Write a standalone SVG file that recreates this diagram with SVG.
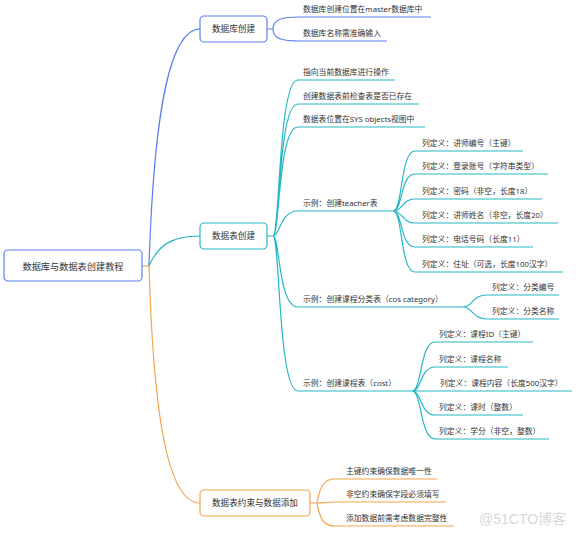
<svg xmlns="http://www.w3.org/2000/svg" width="576" height="538" viewBox="0 0 576 538">
<style>
text{font-family:"Noto Sans","Noto Sans CJK SC",sans-serif;fill:#333;dominant-baseline:central}
.leaf{font-size:7.8px}
.node{font-size:8.6px;text-anchor:middle}
.root{font-size:9.2px;text-anchor:middle}
.box{fill:#fff;stroke-width:1.2}
.c{fill:none;stroke-width:1.2}
.b{stroke:#5b7ff2}.t{stroke:#26b8c8}.o{stroke:#f5a24c}
.wm{font-family:"Liberation Sans","Noto Sans CJK SC",sans-serif;font-size:14px;fill:#d8d8d8}
</style>
<rect width="576" height="538" fill="#fff"/>
<g id="connectors">
<path class="c o" d="M142,266 L150,266"/>
<path class="c b" d="M149,266 C153,140 165,29 200,29"/>
<path class="c t" d="M149,266 C158,245 172,236 200,236"/>
<path class="c o" d="M149,266 C153,400 165,503 200,503"/>
<path class="c b" d="M267,29 L273,29 C273,19 283,17 300,17 L431,17 M273,29 C273,39 283,41 300,41 L387,41"/>
<path class="c t" d="M267,236 L273,236 M273,236 C280,236 278,80 298,80 L395,80 M273,236 C280,236 278,104 298,104 L419,104 M273,236 C280,236 278,127 298,127 L425,127 M273,236 C280,236 280,211 298,211 L393,211 M273,236 C280,236 278,307 298,307 L463,307 M273,236 C280,236 278,391 298,391 L412,391"/>
<path class="c t" d="M393,211 C403,211 400,151 415,151 L523,151 M393,211 C403,211 400,174 415,174 L548,174 M393,211 C403,211 402,199 415,199 L542,199 M393,211 C403,211 402,223 415,223 L558,223 M393,211 C403,211 400,247 415,247 L533,247 M393,211 C403,211 400,272 415,272 L563,272"/>
<path class="c t" d="M463,307 C473,307 472,295 487,295 L559,295 M463,307 C473,307 472,319 487,319 L559,319"/>
<path class="c t" d="M412,391 C422,391 420,342 435,342 L533,342 M412,391 C422,391 420,367 435,367 L508,367 M412,391 L572,391 M412,391 C422,391 420,415 435,415 L523,415 M412,391 C422,391 420,439 435,439 L549,439"/>
<path class="c o" d="M310,503 L317,503 C320,485 325,479 335,479 L437,479 M317,503 C325,503 325,502 335,502 L446,502 M317,503 C320,521 325,526 335,526 L454,526"/>
</g>
<g id="root"><rect class="box b" x="4" y="250" width="138" height="31" rx="4"/><text class="root" x="73" y="266">数据库与数据表创建教程</text></g>
<g id="n-db"><rect class="box b" x="200" y="16" width="67" height="26" rx="4"/><text class="node" x="233.5" y="29">数据库创建</text></g>
<g id="n-table"><rect class="box t" x="200" y="223" width="67" height="26" rx="4"/><text class="node" x="233.5" y="236">数据表创建</text></g>
<g id="n-cons"><rect class="box o" x="200" y="490" width="110" height="26" rx="4"/><text class="node" x="255" y="503">数据表约束与数据添加</text></g>
<g id="l-db1"><text class="leaf" x="303" y="9">数据库创建位置在master数据库中</text></g>
<g id="l-db2"><text class="leaf" x="303" y="33">数据库名称需准确输入</text></g>
<g id="l-t1"><text class="leaf" x="303" y="72">指向当前数据库进行操作</text></g>
<g id="l-t2"><text class="leaf" x="303" y="96">创建数据表前检查表是否已存在</text></g>
<g id="l-t3"><text class="leaf" x="303" y="119">数据表位置在SYS objects视图中</text></g>
<g id="l-teacher"><text class="leaf" x="303" y="203">示例：创建teacher表</text></g>
<g id="l-te1"><text class="leaf" x="422" y="143">列定义：讲师编号（主键）</text></g>
<g id="l-te2"><text class="leaf" x="422" y="166">列定义：登录账号（字符串类型）</text></g>
<g id="l-te3"><text class="leaf" x="422" y="191">列定义：密码（非空，长度18）</text></g>
<g id="l-te4"><text class="leaf" x="422" y="215">列定义：讲师姓名（非空，长度20）</text></g>
<g id="l-te5"><text class="leaf" x="422" y="239">列定义：电话号码（长度11）</text></g>
<g id="l-te6"><text class="leaf" x="422" y="264">列定义：住址（可选，长度100汉字）</text></g>
<g id="l-cat"><text class="leaf" x="303" y="299">示例：创建课程分类表（cos category）</text></g>
<g id="l-ca1"><text class="leaf" x="492" y="287">列定义：分类编号</text></g>
<g id="l-ca2"><text class="leaf" x="492" y="311">列定义：分类名称</text></g>
<g id="l-cost"><text class="leaf" x="303" y="383">示例：创建课程表（cost）</text></g>
<g id="l-co1"><text class="leaf" x="439" y="334">列定义：课程ID（主键）</text></g>
<g id="l-co2"><text class="leaf" x="439" y="359">列定义：课程名称</text></g>
<g id="l-co3"><text class="leaf" x="440" y="383">列定义：课程内容（长度500汉字）</text></g>
<g id="l-co4"><text class="leaf" x="439" y="407">列定义：课时（整数）</text></g>
<g id="l-co5"><text class="leaf" x="439" y="431">列定义：学分（非空，整数）</text></g>
<g id="l-o1"><text class="leaf" x="346" y="471">主键约束确保数据唯一性</text></g>
<g id="l-o2"><text class="leaf" x="346" y="494">非空约束确保字段必须填写</text></g>
<g id="l-o3"><text class="leaf" x="346" y="518">添加数据前需考虑数据完整性</text></g>
<text class="wm" x="479" y="519">@51CTO博客</text>
</svg>
